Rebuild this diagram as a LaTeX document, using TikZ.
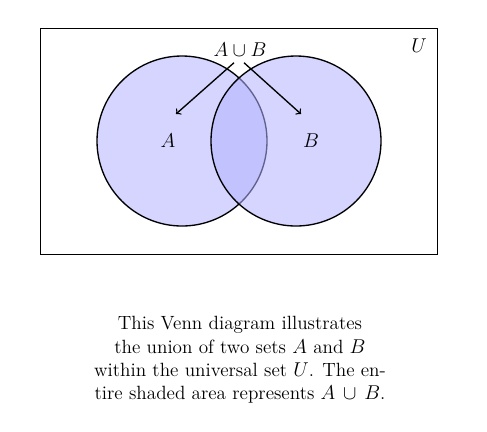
\documentclass[tikz,border=0pt]{standalone}
\usepackage{amssymb,amsmath}
\usetikzlibrary{arrows}

\begin{document}
\begin{tikzpicture}[x=0.6pt,y=-0.6pt]
\tikzset{SetStyle/.style = {draw=black,thick,fill=blue!30,fill opacity=0.55},
         ArrowStyle/.style = {->,thick}}
\useasboundingbox (0,0) rectangle (487,431);
\node[draw,thick,minimum width=397*0.6pt,minimum height=226*0.6pt,anchor=north west] (univ) at (40,28) {};
\draw[SetStyle] (182,141) circle (85);
\draw[SetStyle] (296,141) circle (85);
\node (setA) at (168,141) {\large $A$};
\node (setB) at (311,141) {\large $B$};
\node (union) at (240,50) {\large $A\cup B$};
\node (univlab) at (419,46) {\large $U$};
\coordinate (tipA) at (176,114);
\coordinate (tipB) at (301,114);
\draw[ArrowStyle] (union.south) ++(-6,0) -- (tipA);
\draw[ArrowStyle] (union.south) ++(4,0) -- (tipB);
\node[align=center,font=\fontsize{11.5}{14}\selectfont] (caption) at (240,360)
  {This Venn diagram illustrates\\ the union of two sets $A$ and $B$\\ within the universal set $U$. The en-\\ tire shaded area represents $A\,\cup\,B$.};
\end{tikzpicture}
\end{document}
